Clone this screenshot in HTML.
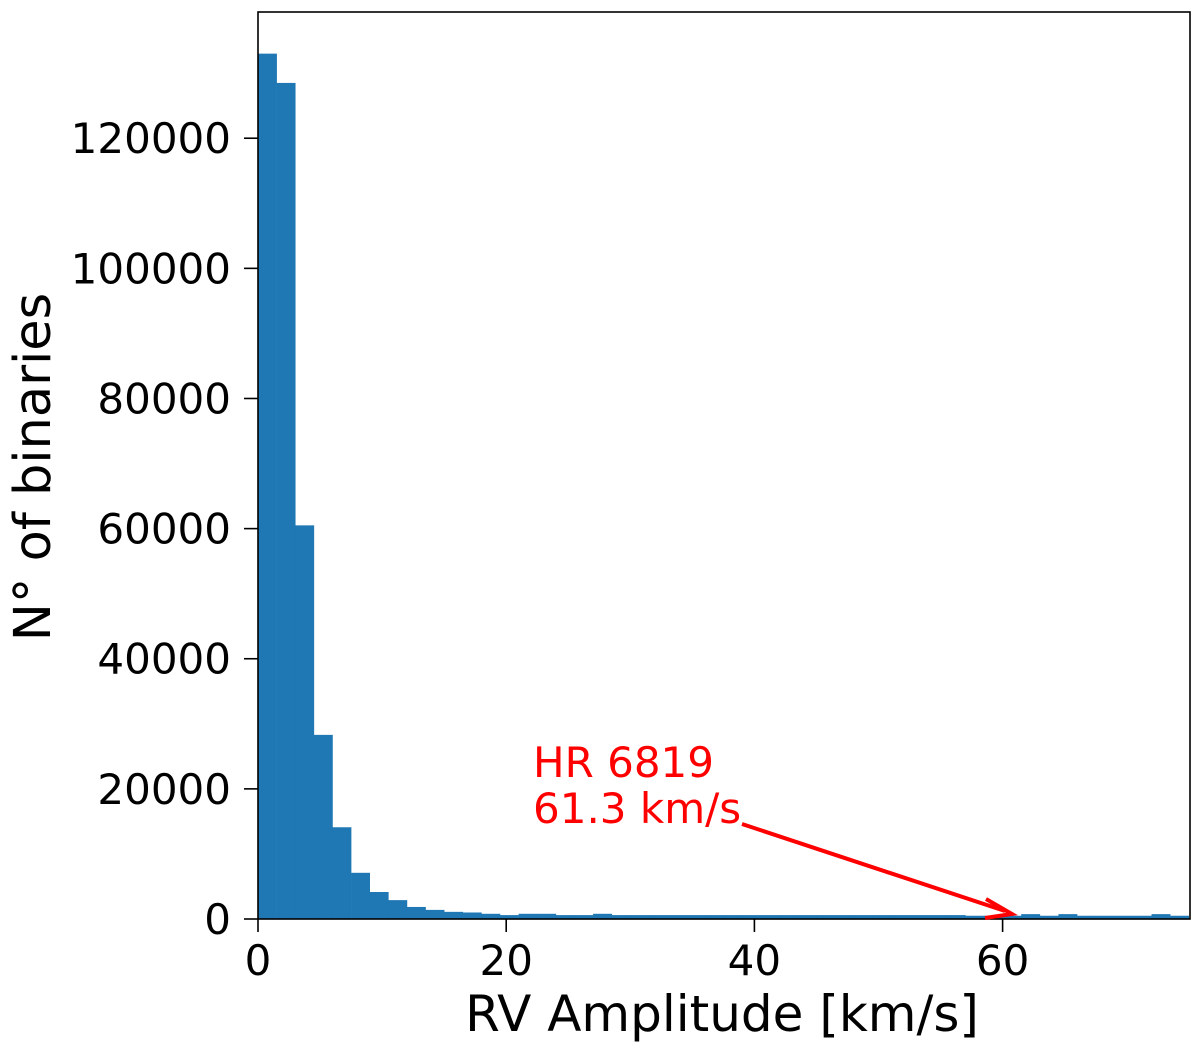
<!DOCTYPE html>
<html><head><meta charset="utf-8">
<style>
html,body{margin:0;padding:0;background:#fff;}
svg text{font-family:"DejaVu Sans","Liberation Sans",sans-serif;}
</style></head>
<body>
<svg id="chart" width="1200" height="1053" viewBox="0 0 1200 1053" xmlns="http://www.w3.org/2000/svg">
<g id="bars"></g>
<g id="axes"></g>
<text transform="translate(50,467) rotate(-90)" text-anchor="middle" font-size="51" fill="#000">N° of binaries</text>
<text x="722" y="1031" text-anchor="middle" font-size="50" fill="#000">RV Amplitude [km/s]</text>
<g>
<text x="533" y="777" font-size="42" fill="#ff0000">HR 6819</text>
<text x="533" y="823" font-size="42" fill="#ff0000">61.3 km/s</text>
<line x1="742" y1="824" x2="1005" y2="911" stroke="#ff0000" stroke-width="4"/>
<polyline points="986,899 1012,914 985,918" fill="none" stroke="#ff0000" stroke-width="4" stroke-linejoin="miter"/>
</g>
</svg>
<script>
const binWidth = 1.5;
const counts = [133000,128500,60500,28300,14100,7100,4150,2900,1850,1400,1100,1000,800,600,800,800,600,600,800,600,
600,600,600,600,600,600,600,600,600,600,600,600,600,600,600,600,600,600,500,500,500,750,500,750,500,500,500,500,750,500];
const xTicks = [0,20,40,60];
const yTicks = [0,20000,40000,60000,80000,100000,120000];
const X0=258,X1=1190,Y0=919,Y1=12,xMax=75.1,yMax=139400;
const sx=v=>X0+v/xMax*(X1-X0);
const sy=v=>Y0-v/yMax*(Y0-Y1);
const NS="http://www.w3.org/2000/svg";
const bars=document.getElementById('bars');
counts.forEach((c,i)=>{
  const r=document.createElementNS(NS,'rect');
  const x1=sx(i*binWidth), x2=Math.min(sx((i+1)*binWidth),X1);
  r.setAttribute('x',x1);r.setAttribute('width',Math.max(0,x2-x1)+0.3);
  r.setAttribute('y',sy(c));r.setAttribute('height',Y0-sy(c));
  r.setAttribute('fill','#1f77b4');
  
  
  bars.appendChild(r);
});
const ax=document.getElementById('axes');
const frame=document.createElementNS(NS,'rect');
frame.setAttribute('x',X0);frame.setAttribute('y',Y1);frame.setAttribute('width',X1-X0);frame.setAttribute('height',Y0-Y1);
frame.setAttribute('fill','none');frame.setAttribute('stroke','#000');frame.setAttribute('stroke-width','1.6');


ax.appendChild(frame);
xTicks.forEach(t=>{
  const l=document.createElementNS(NS,'line');
  l.setAttribute('x1',sx(t));l.setAttribute('x2',sx(t));l.setAttribute('y1',Y0);l.setAttribute('y2',Y0+13);
  l.setAttribute('stroke','#000');l.setAttribute('stroke-width','1.6');
  
  
  ax.appendChild(l);
  const tx=document.createElementNS(NS,'text');
  tx.setAttribute('x',sx(t));tx.setAttribute('y',Y0+56);tx.setAttribute('text-anchor','middle');tx.setAttribute('font-size','42');
  tx.textContent=t;
  
  
  ax.appendChild(tx);
});
yTicks.forEach(t=>{
  const l=document.createElementNS(NS,'line');
  l.setAttribute('x1',X0-14);l.setAttribute('x2',X0);l.setAttribute('y1',sy(t));l.setAttribute('y2',sy(t));
  l.setAttribute('stroke','#000');l.setAttribute('stroke-width','1.6');
  
  
  ax.appendChild(l);
  const tx=document.createElementNS(NS,'text');
  tx.setAttribute('x',X0-27);tx.setAttribute('y',sy(t)+15);tx.setAttribute('text-anchor','end');tx.setAttribute('font-size','42');
  tx.textContent=t;
  
  
  ax.appendChild(tx);
});
</script>
</body></html>
